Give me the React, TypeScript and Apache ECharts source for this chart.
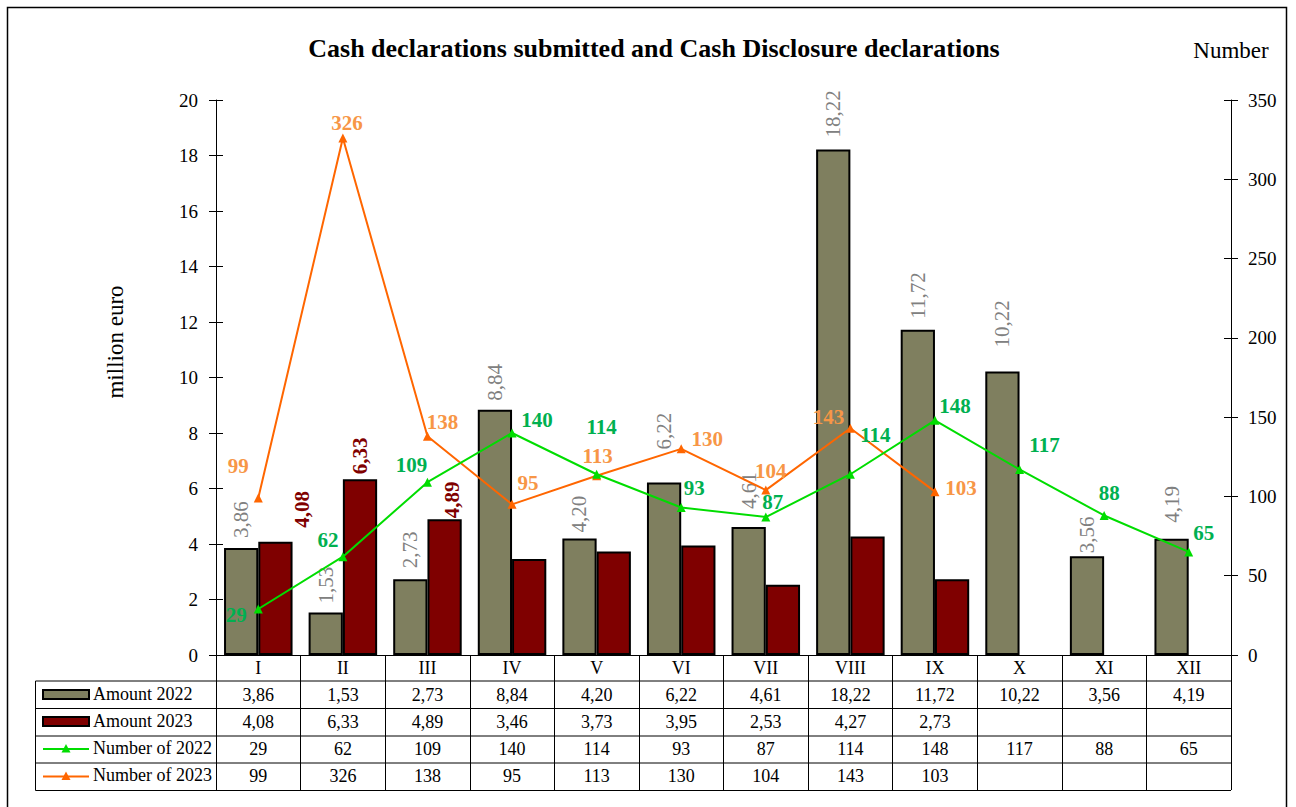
import React, { useEffect, useRef } from "react";
import * as echarts from "echarts";

const months = ["I", "II", "III", "IV", "V", "VI", "VII", "VIII", "IX", "X", "XI", "XII"];
const amount2022 = [3.86, 1.53, 2.73, 8.84, 4.2, 6.22, 4.61, 18.22, 11.72, 10.22, 3.56, 4.19];
const amount2023 = [4.08, 6.33, 4.89, 3.46, 3.73, 3.95, 2.53, 4.27, 2.73, null, null, null];
const number2022 = [29, 62, 109, 140, 114, 93, 87, 114, 148, 117, 88, 65];
const number2023 = [99, 326, 138, 95, 113, 130, 104, 143, 103, null, null, null];
const seriesNames = ["Amount 2022", "Amount 2023", "Number of 2022", "Number of 2023"];
const leftAxis = { min: 0, max: 20, interval: 2 };
const rightAxis = { min: 0, max: 350, interval: 50 };

// label placement (style only)
const gap22 = [10, 9, 11, 9, 6, 33, 18, 12, 11, 24, 3, 16];
const gap23 = [14, 5, 1];
const shift23 = [27, 0, 7];
const off22: number[][] = [[-22, 6], [-15, -17], [-16, -17], [25, -13], [5, -47], [13, -20], [7, -15], [25, -39], [20, -14], [25, -24], [5, -22], [15, -19]];
const off23: number[][] = [[-20, -32], [4, -15], [15, -14], [16, -21], [1, -20], [26, -10], [5, -19], [-22, -11], [26, -4]];

const FONT = "'Times New Roman', 'Liberation Serif', serif";
const C_BAR22 = "#7f7f5f";
const C_BAR23 = "#7f0000";
const C_LINE22 = "#00dd00";
const C_LINE23 = "#ff6600";
const C_LBL22 = "#00b050";
const C_LBL23 = "#f79646";
const LBL_SIZE = 21;

const fmt = (v: number | null) => (v == null ? "" : v.toFixed(2).replace(".", ","));

function buildOption() {
  const tableLabel = (idx: number) =>
    [months[idx], fmt(amount2022[idx]), fmt(amount2023[idx]), number2022[idx] == null ? "" : String(number2022[idx]), number2023[idx] == null ? "" : String(number2023[idx])].join("\n");

  const rowY = [695, 722, 749, 776];
  const rowLines = [681, 708.5, 736, 763, 790.5];
  const graphic: any[] = [
    { type: "rect", shape: { x: 7.5, y: 7.5, width: 1279, height: 830 }, style: { fill: "none", stroke: "#000", lineWidth: 1.5 } },
    { type: "text", x: 654, y: 48, style: { text: "Cash declarations submitted and Cash Disclosure declarations", fontFamily: FONT, fontSize: 26, fontWeight: "bold", fill: "#000", align: "center", verticalAlign: "middle" } },
    { type: "text", x: 1231, y: 50, style: { text: "Number", fontFamily: FONT, fontSize: 23, fill: "#000", align: "center", verticalAlign: "middle" } },
    { type: "text", x: 115, y: 342, rotation: Math.PI / 2, style: { text: "million euro", fontFamily: FONT, fontSize: 23, fill: "#000", align: "center", verticalAlign: "middle" } },
    { type: "line", shape: { x1: 35.5, y1: 681, x2: 35.5, y2: 790.5 }, style: { stroke: "#000", lineWidth: 1 } },
  ];
  rowLines.forEach((y) => graphic.push({ type: "line", shape: { x1: 35.5, y1: y, x2: 1231, y2: y }, style: { stroke: "#000", lineWidth: 1 } }));
  seriesNames.forEach((n, i) => {
    graphic.push({ type: "text", x: 93, y: rowY[i] - 1, style: { text: n, fontFamily: FONT, fontSize: 18, fill: "#000", align: "left", verticalAlign: "middle" } });
  });
  graphic.push({ type: "rect", shape: { x: 43, y: 690, width: 46, height: 9 }, style: { fill: C_BAR22, stroke: "#000", lineWidth: 2 } });
  graphic.push({ type: "rect", shape: { x: 43, y: 717, width: 46, height: 9 }, style: { fill: C_BAR23, stroke: "#000", lineWidth: 2 } });
  [[749, C_LINE22], [776.5, C_LINE23]].forEach(([y, c]: any) => {
    graphic.push({ type: "line", shape: { x1: 43, y1: y, x2: 89, y2: y }, style: { stroke: c, lineWidth: 2 } });
    graphic.push({ type: "polygon", shape: { points: [[66, y - 5], [61.5, y + 3.5], [70.5, y + 3.5]] }, style: { fill: c } });
  });

  const yBase = (cfg: any, pos: string, extra: any) => ({
    type: "value",
    position: pos,
    min: cfg.min,
    max: cfg.max,
    interval: cfg.interval,
    splitLine: { show: false },
    ...extra,
  });

  return {
    animation: false,
    backgroundColor: "#fff",
    textStyle: { fontFamily: FONT },
    grid: { left: 216, right: 65, top: 100, bottom: 152, containLabel: false },
    graphic,
    xAxis: {
      type: "category",
      data: months,
      boundaryGap: true,
      axisLine: { show: true, lineStyle: { color: "#000", width: 1 } },
      axisTick: { show: true, length: 135, lineStyle: { color: "#000", width: 1 } },
      axisLabel: {
        interval: 0,
        margin: -0.5,
        formatter: (_v: string, idx: number) => tableLabel(idx),
        fontFamily: FONT,
        fontSize: 18,
        lineHeight: 27,
        color: "#000",
      },
    },
    yAxis: [
      yBase(leftAxis, "left", {
        axisLine: { show: true, lineStyle: { color: "#000", width: 1 } },
        axisTick: { show: true, length: 7, lineStyle: { color: "#000" } },
        axisLabel: { margin: 18, fontFamily: FONT, fontSize: 19, color: "#000" },
      }),
      yBase(rightAxis, "right", {
        axisLine: { show: true, lineStyle: { color: "#000", width: 1 } },
        axisTick: { show: true, length: 7, lineStyle: { color: "#000" } },
        axisLabel: { margin: 17, fontFamily: FONT, fontSize: 19, color: "#000" },
      }),
      yBase(leftAxis, "left", {
        axisLine: { show: false },
        axisTick: { show: true, inside: true, length: 7, lineStyle: { color: "#000" } },
        axisLabel: { show: false },
      }),
      yBase(rightAxis, "right", {
        axisLine: { show: false },
        axisTick: { show: true, inside: true, length: 7, lineStyle: { color: "#000" } },
        axisLabel: { show: false },
      }),
    ],
    series: [
      {
        name: seriesNames[0],
        type: "bar",
        yAxisIndex: 0,
        barGap: "0%",
        barCategoryGap: "19%",
        itemStyle: { color: C_BAR22, borderColor: "#000", borderWidth: 2 },
        label: {
          show: true,
          position: "top",
          rotate: 90,
          align: "left",
          verticalAlign: "middle",
          color: "#808080",
          fontFamily: FONT,
          fontSize: LBL_SIZE,
          formatter: (p: any) => fmt(p.value),
        },
        data: amount2022.map((v, i) => ({ value: v, label: { distance: gap22[i] } })),
      },
      {
        name: seriesNames[1],
        type: "bar",
        yAxisIndex: 0,
        barGap: "0%",
        barCategoryGap: "19%",
        itemStyle: { color: C_BAR23, borderColor: "#000", borderWidth: 2 },
        label: {
          show: false,
          position: "top",
          rotate: 90,
          align: "left",
          verticalAlign: "middle",
          color: C_BAR23,
          fontFamily: FONT,
          fontSize: LBL_SIZE,
          fontWeight: "bold",
          formatter: (p: any) => fmt(p.value),
        },
        data: amount2023.map((v, i) =>
          i < gap23.length ? { value: v, label: { show: true, distance: gap23[i], offset: [0, shift23[i]] } } : { value: v }
        ),
      },
      {
        name: seriesNames[2],
        type: "line",
        yAxisIndex: 1,
        z: 5,
        color: C_LINE22,
        lineStyle: { color: C_LINE22, width: 2 },
        symbol: "triangle",
        symbolSize: 9,
        itemStyle: { color: C_LINE22 },
        label: {
          show: true,
          position: "inside",
          color: C_LBL22,
          fontFamily: FONT,
          fontSize: LBL_SIZE,
          fontWeight: "bold",
          textBorderWidth: 0,
        },
        data: number2022.map((v, i) => ({ value: v, label: { offset: off22[i] } })),
      },
      {
        name: seriesNames[3],
        type: "line",
        yAxisIndex: 1,
        z: 4,
        color: C_LINE23,
        lineStyle: { color: C_LINE23, width: 2 },
        symbol: "triangle",
        symbolSize: 9,
        itemStyle: { color: C_LINE23 },
        label: {
          show: true,
          position: "inside",
          color: C_LBL23,
          fontFamily: FONT,
          fontSize: LBL_SIZE,
          fontWeight: "bold",
          textBorderWidth: 0,
        },
        data: number2023.map((v, i) => (v == null ? { value: v } : { value: v, label: { offset: off23[i] } })),
      },
    ],
  };
}

export default function App() {
  const ref = useRef<HTMLDivElement>(null);
  useEffect(() => {
    const chart = echarts.init(ref.current!, null, { renderer: "svg" });
    chart.setOption(buildOption() as any);
    return () => chart.dispose();
  }, []);
  return (
    <div
      ref={ref}
      style={{ position: "fixed", left: 0, top: 0, width: 1296, height: 807, background: "#fff" }}
    />
  );
}
